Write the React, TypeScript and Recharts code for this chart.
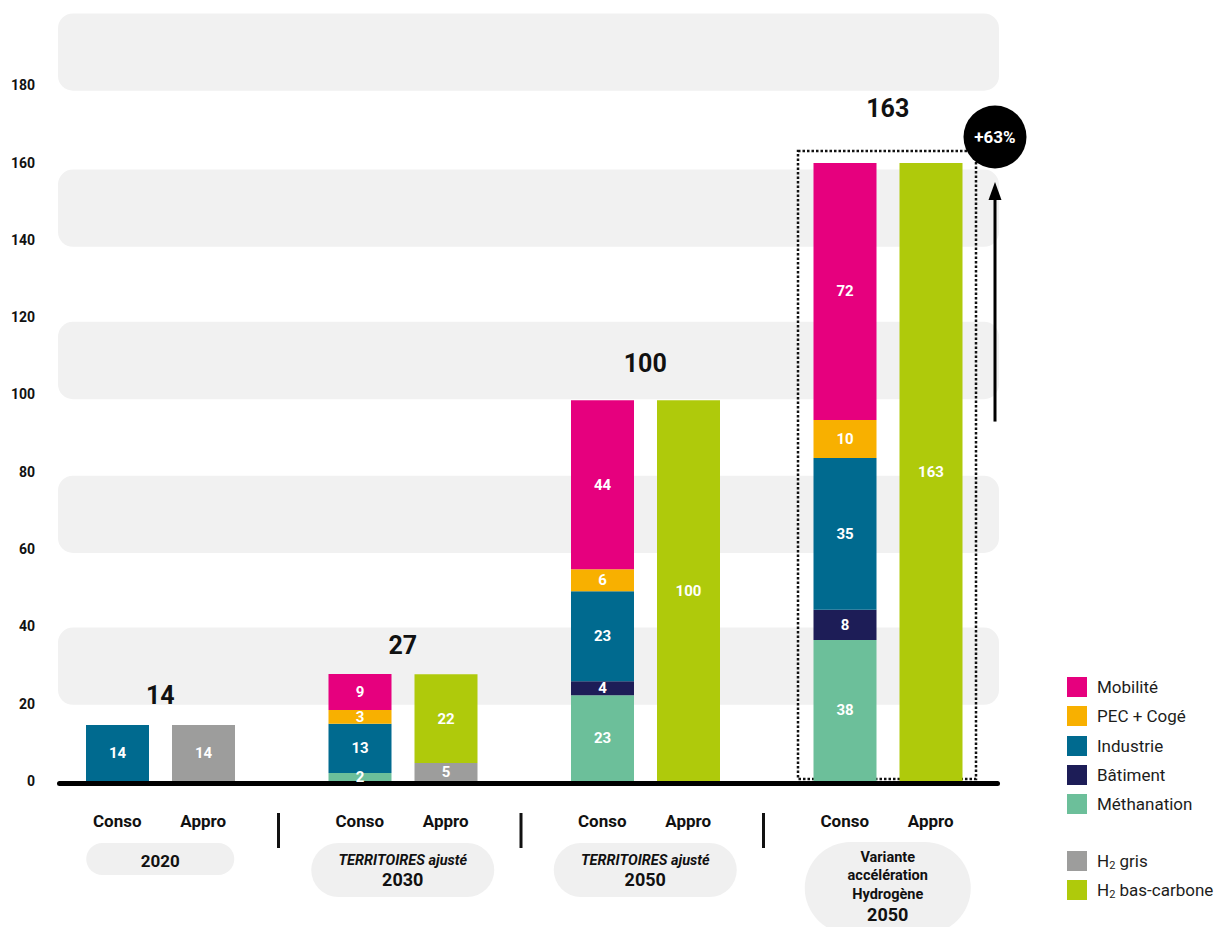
import React from 'react';
import {
  BarChart,
  Bar,
  XAxis,
  YAxis,
  ReferenceArea,
  ReferenceLine,
  ReferenceDot,
  LabelList,
  Legend,
} from 'recharts';

// ---------- data ----------
const groups = ['2020', '2030', '2050', 'variante2050'];

// drawn segment heights
const methanation = [0, 2.1, 22.2, 36.5];
const batiment = [0, 0, 3.6, 7.8];
const industrie = [14.5, 12.7, 23.3, 39.3];
const pecCoge = [0, 3.6, 5.7, 9.8];
const mobilite = [0, 9.3, 43.7, 66.5];
const h2Gris = [14.5, 4.65, 0, 0];
const h2BasCarbone = [0, 23, 98.5, 159.9];

// printed segment labels
const methanationLabels = ['', '2', '23', '38'];
const batimentLabels = ['', '', '4', '8'];
const industrieLabels = ['14', '13', '23', '35'];
const pecCogeLabels = ['', '3', '6', '10'];
const mobiliteLabels = ['', '9', '44', '72'];
const h2GrisLabels = ['14', '5', '', ''];
const h2BasCarboneLabels = ['', '22', '100', '163'];

// totals printed above each group
const totals = [14, 27, 100, 163];

// axis
const yTicks = [0, 20, 40, 60, 80, 100, 120, 140, 160, 180];
const bandStarts = [19.7, 59, 98.8, 138.2, 178.6];
const bandSpan = 20;

// x labels
const barNames = ['Conso', 'Appro'];
const groupTitles = [[], ['TERRITOIRES ajusté'], ['TERRITOIRES ajusté'], ['Variante', 'accélération', 'Hydrogène']];
const groupYears = ['2020', '2030', '2050', '2050'];

// highlight annotation
const highlightGroup = 'variante2050';
const highlightTotal = 163;
const growthArrowFrom = 93;
const growthArrowTo = 155;
const growthLabel = '+63%';

// legend
const legendItems = [
  { name: 'Mobilité', color: '#e6007e' },
  { name: 'PEC + Cogé', color: '#f8b000' },
  { name: 'Industrie', color: '#006a8f' },
  { name: 'Bâtiment', color: '#1d1d57' },
  { name: 'Méthanation', color: '#6cbf9a' },
  { name: 'H2 gris', color: '#9d9d9c', gapBefore: true },
  { name: 'H2 bas-carbone', color: '#afca0b' },
];

const COLORS = {
  meth: '#6cbf9a',
  bat: '#1d1d57',
  ind: '#006a8f',
  pec: '#f8b000',
  mob: '#e6007e',
  gris: '#9d9d9c',
  bas: '#afca0b',
};

const data = groups.map((g, i) => ({
  group: g,
  meth: methanation[i],
  bat: batiment[i],
  ind: industrie[i],
  pec: pecCoge[i],
  mob: mobilite[i],
  gris: h2Gris[i],
  bas: h2BasCarbone[i],
  methL: methanationLabels[i],
  batL: batimentLabels[i],
  indL: industrieLabels[i],
  pecL: pecCogeLabels[i],
  mobL: mobiliteLabels[i],
  grisL: h2GrisLabels[i],
  basL: h2BasCarboneLabels[i],
}));

const FONT = 'Roboto, "DejaVu Sans", sans-serif';
const INK = '#111111';

// ---------- renderers ----------
const SegmentLabel = (props: any) => {
  const { x, y, width, height, value } = props;
  if (!value || !height || height <= 0) return null;
  return (
    <text
      x={x + width / 2}
      y={y + height / 2}
      textAnchor="middle"
      dominantBaseline="central"
      fill="#ffffff"
      fontFamily={FONT}
      fontWeight={700}
      fontSize={15}
    >
      {value}
    </text>
  );
};

const BandShape = (props: any) => {
  const { x, y, width, height } = props;
  return <rect x={x + 19} y={y} width={width - 29} height={height} rx={15} ry={15} fill="#f1f1f1" />;
};

const BaseLineShape = (props: any) => {
  const { x1, x2, y1 } = props;
  return (
    <line
      x1={x1 + 20.5}
      x2={x2 - 11.5}
      y1={y1 + 2.5}
      y2={y1 + 2.5}
      stroke="#000"
      strokeWidth={5}
      strokeLinecap="round"
    />
  );
};

const HighlightShape = (props: any) => {
  const { x, y, width, height } = props;
  const left = x + 31.5;
  const right = x + width - 33;
  const top = y;
  const bottom = y + height - 2;
  const perUnit = height / highlightTotal;
  const baseY = y + height;
  const arrowX = right + 19;
  const arrowBottom = baseY - growthArrowFrom * perUnit;
  const arrowTip = baseY - growthArrowTo * perUnit;
  const headH = 18;
  const headW = 6.5;
  const cy = top - 14;
  return (
    <g>
      <rect
        x={left}
        y={top}
        width={right - left}
        height={bottom - top}
        fill="none"
        stroke={INK}
        strokeWidth={2.5}
        strokeDasharray="2.5 2"
      />
      <line x1={arrowX} x2={arrowX} y1={arrowBottom} y2={arrowTip + headH - 2} stroke="#000" strokeWidth={3} />
      <polygon
        points={`${arrowX},${arrowTip} ${arrowX - headW},${arrowTip + headH} ${arrowX + headW},${arrowTip + headH}`}
        fill="#000"
      />
      <circle cx={arrowX} cy={cy} r={31.5} fill="#000" />
      <text
        x={arrowX}
        y={cy}
        textAnchor="middle"
        dominantBaseline="central"
        fill="#fff"
        fontFamily={FONT}
        fontWeight={700}
        fontSize={17}
      >
        {growthLabel}
      </text>
    </g>
  );
};

const makeTotalLabel = (text: string, lift: number) => (p: any) => {
  const vb = p.viewBox || {};
  const cx = (vb.x || 0) + (vb.width || 0) / 2;
  const cy = (vb.y || 0) + (vb.height || 0) / 2;
  return (
    <text
      x={cx}
      y={cy - lift}
      textAnchor="middle"
      dominantBaseline="central"
      fill={INK}
      fontFamily={FONT}
      fontWeight={700}
      fontSize={25}
    >
      {text}
    </text>
  );
};

const GroupTick = (props: any) => {
  const { x, y, payload } = props;
  const i = groups.indexOf(payload.value);
  const titles = groupTitles[i] || [];
  const year = groupYears[i];
  const halfBand = 121.25;
  const pill = (() => {
    if (titles.length === 0) return { w: 148, h: 32, top: 62 };
    if (titles.length === 1) return { w: 183, h: 54, top: 62 };
    return { w: 166, h: 92, top: 61 };
  })();
  return (
    <g fontFamily={FONT}>
      {i > 0 && (
        <line x1={x - halfBand - 3} x2={x - halfBand - 3} y1={y + 32} y2={y + 67} stroke={INK} strokeWidth={3} />
      )}
      <text x={x - 43} y={y + 40} textAnchor="middle" dominantBaseline="central" fontWeight={700} fontSize={17} fill={INK}>
        {barNames[0]}
      </text>
      <text x={x + 43} y={y + 40} textAnchor="middle" dominantBaseline="central" fontWeight={700} fontSize={17} fill={INK}>
        {barNames[1]}
      </text>
      <rect
        x={x - pill.w / 2}
        y={y + pill.top}
        width={pill.w}
        height={pill.h}
        rx={Math.min(pill.h / 2, 46)}
        ry={Math.min(pill.h / 2, 46)}
        fill="#f0f0f0"
      />
      {titles.length === 0 && (
        <text x={x} y={y + 80} textAnchor="middle" dominantBaseline="central" fontWeight={700} fontSize={17} fill={INK}>
          {year}
        </text>
      )}
      {titles.length === 1 && (
        <g>
          <text x={x} y={y + 79} textAnchor="middle" dominantBaseline="central" fontWeight={700} fontStyle="italic" fontSize={14.5} fill={INK}>
            {titles[0]}
          </text>
          <text x={x} y={y + 98.5} textAnchor="middle" dominantBaseline="central" fontWeight={700} fontSize={18} fill={INK}>
            {year}
          </text>
        </g>
      )}
      {titles.length > 1 && (
        <g>
          {titles.map((t, k) => (
            <text key={k} x={x} y={y + 76 + k * 18.5} textAnchor="middle" dominantBaseline="central" fontWeight={700} fontSize={14.5} fill={INK}>
              {t}
            </text>
          ))}
          <text x={x} y={y + 133.5} textAnchor="middle" dominantBaseline="central" fontWeight={700} fontSize={18} fill={INK}>
            {year}
          </text>
        </g>
      )}
    </g>
  );
};

const renderName = (name: string) => {
  if (name.startsWith('H2')) {
    return (
      <span>
        H<span style={{ fontSize: 11, position: 'relative', top: 2 }}>2</span>
        {name.slice(2)}
      </span>
    );
  }
  return <span>{name}</span>;
};

const LegendContent = () => (
  <div style={{ fontFamily: FONT, fontSize: 17, color: '#1d1d1b' }}>
    {legendItems.map((it, k) => (
      <div
        key={k}
        style={{
          display: 'flex',
          alignItems: 'center',
          height: 20,
          marginTop: k === 0 ? 0 : it.gapBefore ? 37 : 9.3,
          whiteSpace: 'nowrap',
        }}
      >
        <div style={{ width: 20, height: 20, background: it.color, marginRight: 10, flex: 'none' }} />
        {renderName(it.name)}
      </div>
    ))}
  </div>
);

export default function App() {
  return (
    <div style={{ position: 'absolute', left: 0, top: 0, width: 1227, height: 927, background: '#fff' }}>
      <BarChart
        width={1227}
        height={927}
        data={data}
        margin={{ top: 8, right: 218, bottom: 0, left: 0 }}
        barGap={23}
      >
        {bandStarts.map((b, k) => (
          <ReferenceArea key={`band${k}`} y1={b} y2={b + bandSpan} shape={BandShape} ifOverflow="visible" />
        ))}
        <XAxis
          dataKey="group"
          height={146}
          tickSize={0}
          tickMargin={0}
          axisLine={false}
          tickLine={false}
          interval={0}
          tick={GroupTick}
        />
        <YAxis
          width={39}
          domain={[0, 200]}
          ticks={yTicks}
          tickSize={0}
          tickMargin={4}
          axisLine={false}
          tickLine={false}
          tick={{ fontFamily: FONT, fontWeight: 700, fontSize: 14, fill: INK }}
        />
        <Bar dataKey="meth" stackId="conso" fill={COLORS.meth} barSize={63} isAnimationActive={false}>
          <LabelList dataKey="methL" content={SegmentLabel} />
        </Bar>
        <Bar dataKey="bat" stackId="conso" fill={COLORS.bat} barSize={63} isAnimationActive={false}>
          <LabelList dataKey="batL" content={SegmentLabel} />
        </Bar>
        <Bar dataKey="ind" stackId="conso" fill={COLORS.ind} barSize={63} isAnimationActive={false}>
          <LabelList dataKey="indL" content={SegmentLabel} />
        </Bar>
        <Bar dataKey="pec" stackId="conso" fill={COLORS.pec} barSize={63} isAnimationActive={false}>
          <LabelList dataKey="pecL" content={SegmentLabel} />
        </Bar>
        <Bar dataKey="mob" stackId="conso" fill={COLORS.mob} barSize={63} isAnimationActive={false}>
          <LabelList dataKey="mobL" content={SegmentLabel} />
        </Bar>
        <Bar dataKey="gris" stackId="appro" fill={COLORS.gris} barSize={63} isAnimationActive={false}>
          <LabelList dataKey="grisL" content={SegmentLabel} />
        </Bar>
        <Bar dataKey="bas" stackId="appro" fill={COLORS.bas} barSize={63} isAnimationActive={false}>
          <LabelList dataKey="basL" content={SegmentLabel} />
        </Bar>
        <ReferenceLine y={0} shape={BaseLineShape} ifOverflow="visible" />
        <ReferenceArea
          x1={highlightGroup}
          x2={highlightGroup}
          y1={0}
          y2={highlightTotal}
          shape={HighlightShape}
          ifOverflow="visible"
        />
        {totals.map((t, k) => (
          <ReferenceDot
            key={`tot${k}`}
            x={groups[k]}
            y={t}
            r={1}
            fill="none"
            stroke="none"
            ifOverflow="visible"
            label={{ content: makeTotalLabel(String(t), groups[k] === highlightGroup ? 43 : 31) }}
          />
        ))}
        <Legend
          layout="vertical"
          align="center"
          verticalAlign="middle"
          content={LegendContent}
          wrapperStyle={{ left: 1067, top: 677, width: 160 }}
        />
      </BarChart>
    </div>
  );
}
